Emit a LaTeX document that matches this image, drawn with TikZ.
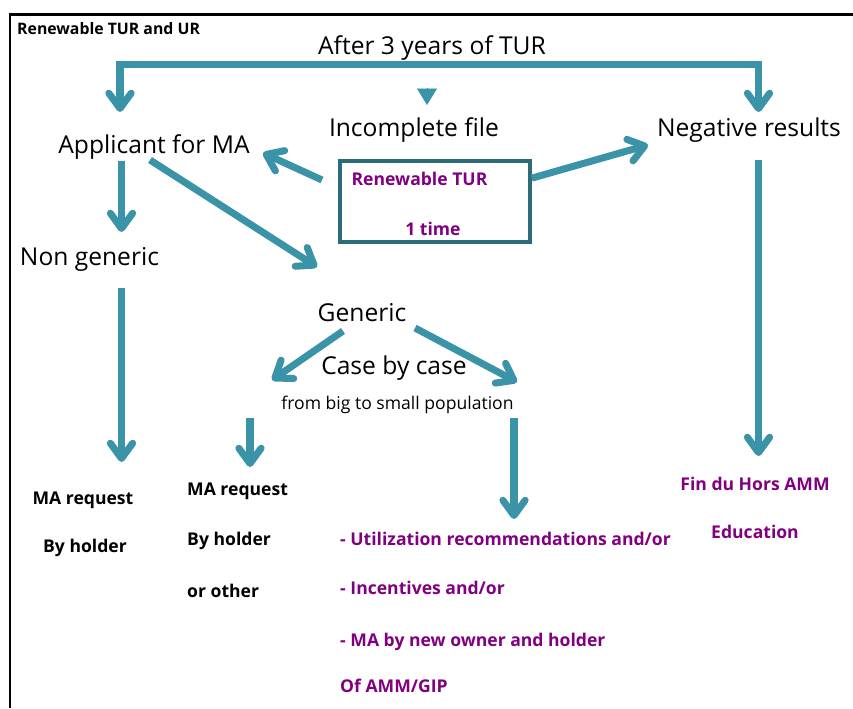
\documentclass[tikz,border=0pt]{standalone}
\usepackage{fontspec}
\setmainfont{Open Sans}
\usetikzlibrary{arrows.meta, positioning}

\definecolor{flowteal}{RGB}{59,147,168}
\definecolor{boxteal}{RGB}{44,108,122}
\definecolor{notepurple}{RGB}{128,0,128}

\begin{document}
\begin{tikzpicture}[
    x=0.03cm, y=-0.03cm,
    flow/.style={line width=6pt, flowteal,
                 -{Straight Barb[round, length=13pt, width=19pt]}},
    tip/.style={line width=0.4pt, flowteal,
                -{Triangle[length=14pt, width=17pt]}},
    lbl/.style={font=\fontsize{21}{25}\selectfont, inner sep=0pt, anchor=base},
    small/.style={font=\fontsize{15}{18}\selectfont, inner sep=0pt, anchor=base},
    note/.style={font=\fontsize{15}{18}\selectfont\bfseries, inner sep=0pt, anchor=base},
    purplenote/.style={note, text=notepurple}
  ]
  \useasboundingbox (0,0) rectangle (853,708);

  % Frame
  \draw[line width=2.5pt] (10,708) -- (10,14.5) -- (853,14.5);
  \node[note, font=\fontsize{13.5}{16}\selectfont\bfseries, anchor=base west]
    (title) at (17,35) {Renewable TUR and UR};

  % Top row
  \node[lbl] (after) at (432,55) {After 3 years of TUR};
  \node[lbl] (applicant) at (154,154) {Applicant for MA};
  \node[lbl] (incomplete) at (414,137) {Incomplete file};
  \node[lbl] (negative) at (749,137) {Negative results};

  % Renewable TUR box
  \node[draw=boxteal, line width=3pt, minimum width=5.7cm, minimum height=2.43cm]
    (tur) at (435,201.5) {};
  \node[purplenote] (turname) at (419.5,186) {Renewable TUR};
  \node[purplenote] (once) at (433,235) {1 time};

  % Middle row
  \node[lbl] (nongeneric) at (89.5,265) {Non generic};
  \node[lbl] (generic) at (362,321) {Generic};
  \node[lbl] (casebycase) at (394,374) {Case by case};
  \node[small] (population) at (397.5,409) {from big to small population};

  % Outcomes
  \node[note] (req1) at (83,504) {MA request};
  \node[note] (holder1) at (85,552) {By holder};
  \node[note, anchor=base west] (req2) at (187,495) {MA request};
  \node[note, anchor=base west] (holder2) at (187,545) {By holder};
  \node[note, anchor=base west] (other2) at (187,597) {or other};
  \node[purplenote, anchor=base west] (reco) at (340,545) {- Utilization recommendations and/or};
  \node[purplenote, anchor=base west] (incent) at (340,594) {- Incentives and/or};
  \node[purplenote, anchor=base west] (owner) at (340,646) {- MA by new owner and holder};
  \node[purplenote, anchor=base west] (gip) at (340,692) {Of AMM/GIP};
  \node[purplenote] (fin) at (755,490) {Fin du Hors AMM};
  \node[purplenote] (edu) at (755,538) {Education};

  % Connector ends
  \coordinate (bar-l) at (120,64.5);
  \coordinate (bar-r) at (758.5,64.5);
  \coordinate (applicant-top) at (120,112);
  \coordinate (negative-top) at (758.5,112);
  \coordinate (incomplete-top) at (427,105);
  \coordinate (mark-top) at (427,88.5);
  \coordinate (applicant-in) at (263,153);
  \coordinate (tur-left) at (322,180);
  \coordinate (negative-in) at (648,145);
  \coordinate (applicant-down) at (121.5,161);
  \coordinate (nongeneric-in) at (121.5,232);
  \coordinate (applicant-diag) at (150,160);
  \coordinate (generic-in) at (317,267);
  \coordinate (nongeneric-down) at (121.5,288);
  \coordinate (req1-in) at (121.5,462);
  \coordinate (generic-left) at (343,331);
  \coordinate (left-in) at (272,380);
  \coordinate (generic-right) at (415,328);
  \coordinate (right-in) at (517,382);
  \coordinate (req2-top) at (250,418);
  \coordinate (req2-in) at (250,467);
  \coordinate (population-down) at (514,418);
  \coordinate (reco-in) at (514,519);
  \coordinate (negative-down) at (758.5,160);
  \coordinate (fin-in) at (758.5,456);

  % After 3 years of TUR
  \draw[flow, {Straight Barb[round, length=13pt, width=19pt]}-{Straight Barb[round, length=13pt, width=19pt]}]
    (applicant-top) -- (bar-l) -- (bar-r) -- (negative-top);
  \draw[tip] (mark-top) -- (incomplete-top);

  % From the box
  \draw[flow] (tur-left) -- (applicant-in);
  \draw[flow] ([yshift=0.7cm]tur.east) -- (negative-in);

  % Applicant branches
  \draw[flow] (applicant-down) -- (nongeneric-in);
  \draw[flow] (applicant-diag) -- (generic-in);
  \draw[flow] (nongeneric-down) -- (req1-in);
  \draw[flow] (generic-left) -- (left-in);
  \draw[flow] (generic-right) -- (right-in);
  \draw[flow] (req2-top) -- (req2-in);
  \draw[flow] (population-down) -- (reco-in);
  \draw[flow] (negative-down) -- (fin-in);

\end{tikzpicture}
\end{document}
